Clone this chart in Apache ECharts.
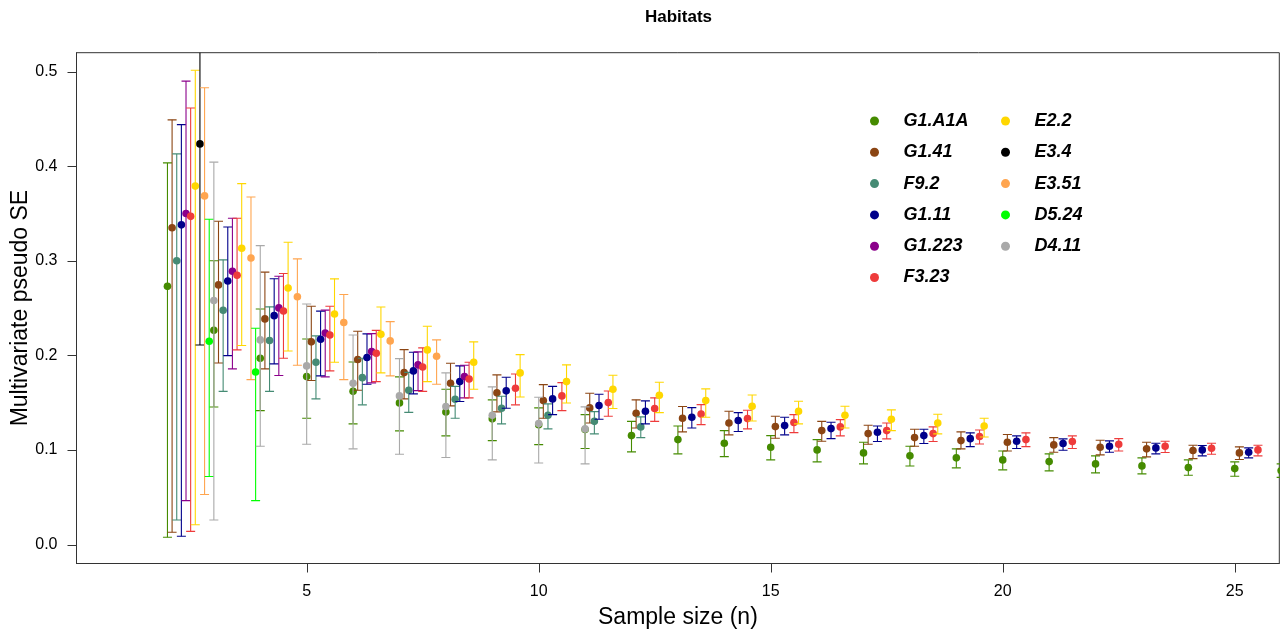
<!DOCTYPE html>
<html><head><meta charset="utf-8">
<script src="https://cdn.jsdelivr.net/npm/echarts@6/dist/echarts.min.js"></script>
<style>html,body{margin:0;padding:0;background:#fff}#c{width:1282px;height:635px}</style>
</head><body><div id="c"></div>
<script>
// Each row: [sample size n, pseudo SE, lower bound, upper bound]
const G1_A1A = [
  [2,0.273,0.0077,0.4035],[3,0.2266,0.1455,0.300],[4,0.197,0.1416,0.249],[5,0.1776,0.1335,0.2174],
  [6,0.162,0.1276,0.193],[7,0.1498,0.1202,0.1773],[8,0.1402,0.1149,0.1642],[9,0.1329,0.1099,0.1530],
  [10,0.1268,0.1057,0.1445],[11,0.1216,0.1015,0.1374],[12,0.1152,0.098,0.1303],[13,0.111,0.0959,0.1254],
  [14,0.1071,0.093,0.1205],[15,0.1029,0.0895,0.1152],[16,0.1001,0.0874,0.111],[17,0.0969,0.0853,0.1082],
  [18,0.0938,0.0831,0.1039],[19,0.0917,0.0811,0.1012],[20,0.0895,0.079,0.099],[21,0.0877,0.0779,0.0959],
  [22,0.0853,0.0758,0.0938],[23,0.0832,0.0747,0.0917],[24,0.0814,0.0733,0.0895],[25,0.0803,0.0722,0.0874],
  [26,0.0782,0.0711,0.0853]
];
const G1_41 = [
  [2,0.335,0.013,0.449],[3,0.2745,0.192,0.3418],[4,0.2386,0.1857,0.288],[5,0.2143,0.1734,0.252],
  [6,0.1956,0.1631,0.2255],[7,0.1818,0.154,0.2061],[8,0.1705,0.1466,0.1917],[9,0.1604,0.1403,0.1794],
  [10,0.1522,0.1335,0.1691],[11,0.1445,0.1286,0.16],[12,0.1388,0.1233,0.153],[13,0.1335,0.1191,0.1459],
  [14,0.1286,0.116,0.141],[15,0.1247,0.1124,0.1356],[16,0.1205,0.1092,0.1303],[17,0.1173,0.106,0.1261],
  [18,0.1131,0.1039,0.1219],[19,0.1099,0.1012,0.1191],[20,0.1082,0.099,0.1163],[21,0.1054,0.0976,0.1131],
  [22,0.1029,0.0948,0.1103],[23,0.1012,0.0927,0.1082],[24,0.0994,0.0909,0.105],[25,0.0969,0.0899,0.1033]
];
const F9_2 = [
  [2,0.300,0.026,0.413],[3,0.2477,0.162,0.301],[4,0.2157,0.162,0.2513],[5,0.1928,0.154,0.2206],
  [6,0.1765,0.1477,0.197],[7,0.1631,0.1398,0.182],[8,0.1536,0.1335,0.1673],[9,0.1441,0.1276,0.1568],
  [10,0.1367,0.1223,0.1487],[11,0.1303,0.117,0.1406],[12,0.1244,0.1131,0.135]
];
const G1_11 = [
  [2,0.338,0.0088,0.444],[3,0.2787,0.1998,0.3358],[4,0.242,0.191,0.281],[5,0.217,0.1783,0.2468],
  [6,0.1977,0.1695,0.2227],[7,0.1836,0.1593,0.2033],[8,0.1723,0.1512,0.1889],[9,0.1625,0.1441,0.1769],
  [10,0.154,0.1374,0.1673],[11,0.147,0.1325,0.1589],[12,0.141,0.1276,0.1519],[13,0.1346,0.1233,0.1448],
  [14,0.1311,0.1195,0.1395],[15,0.1258,0.116,0.1346],[16,0.1226,0.112,0.1293],[17,0.1188,0.1089,0.1254],
  [18,0.1152,0.1068,0.1219],[19,0.112,0.1036,0.1181],[20,0.1092,0.1015,0.1149],[21,0.1068,0.0997,0.1117],
  [22,0.1039,0.0976,0.1096],[23,0.1022,0.0959,0.1071],[24,0.1001,0.0938,0.1047],[25,0.0976,0.0917,0.1022]
];
const G1_223 = [
  [2,0.350,0.0465,0.490],[3,0.289,0.1857,0.345],[4,0.2502,0.1787,0.2836],[5,0.2237,0.1773,0.2479],
  [6,0.204,0.171,0.223],[7,0.19,0.1628,0.2037],[8,0.1776,0.1551,0.1896]
];
const F3_23 = [
  [2,0.347,0.014,0.4616],[3,0.2847,0.2058,0.345],[4,0.247,0.197,0.2865],[5,0.2216,0.1836,0.2519],
  [6,0.2022,0.1723,0.2265],[7,0.1878,0.162,0.2079],[8,0.1751,0.1551,0.1928],[9,0.1653,0.1477,0.1804],
  [10,0.1572,0.1416,0.1712],[11,0.1501,0.1356,0.1624],[12,0.1438,0.1303,0.1551],[13,0.1381,0.1268,0.148],
  [14,0.1332,0.1223,0.142],[15,0.129,0.1184,0.1374],[16,0.1244,0.1149,0.1321],[17,0.1205,0.1117,0.1286],
  [18,0.1173,0.1089,0.1244],[19,0.1142,0.1064,0.1212],[20,0.111,0.1036,0.1181],[21,0.1089,0.1015,0.1149],
  [22,0.106,0.099,0.112],[23,0.1039,0.0973,0.1092],[24,0.1018,0.0955,0.1071],[25,0.1001,0.0938,0.105]
];
const E2_2 = [
  [2,0.379,0.021,0.5014],[3,0.3133,0.2104,0.3816],[4,0.2713,0.2047,0.3196],[5,0.2438,0.1928,0.2809],
  [6,0.2223,0.1815,0.2512],[7,0.2058,0.1723,0.2308],[8,0.1928,0.1642,0.2143],[9,0.1815,0.156,0.2008],
  [10,0.1723,0.1497,0.19],[11,0.1642,0.1438,0.179],[12,0.1579,0.1395,0.1716],[13,0.1522,0.1346,0.1646],
  [14,0.1462,0.1307,0.1582],[15,0.141,0.1276,0.1515],[16,0.1367,0.1233,0.1462],[17,0.1325,0.1205,0.1424],
  [18,0.1286,0.117,0.1378],[19,0.1254,0.1138,0.1335]
];
const E3_4 = [[2,0.4236,0.211,0.64]];
const E3_51 = [
  [2,0.3686,0.053,0.483],[3,0.303,0.1744,0.3675],[4,0.262,0.1896,0.302],[5,0.2347,0.1744,0.2643],
  [6,0.2153,0.1783,0.2357],[7,0.1991,0.1695,0.2164]
];
const D5_24 = [[2,0.215,0.072,0.344],[3,0.1825,0.0465,0.2287]];
const D4_11 = [
  [2,0.258,0.026,0.4043],[3,0.2164,0.104,0.316],[4,0.1889,0.106,0.2544],[5,0.1705,0.1012,0.2216],
  [6,0.1572,0.0955,0.1966],[7,0.1459,0.092,0.1815],[8,0.1367,0.0895,0.1667],[9,0.1279,0.0863,0.1557],
  [10,0.1223,0.0853,0.1456]
];

const habitatNames = ['G1.A1A','G1.41','F9.2','G1.11','G1.223','F3.23','E2.2','E3.4','E3.51','D5.24','D4.11'];
const habitatData  = [G1_A1A, G1_41, F9_2, G1_11, G1_223, F3_23, E2_2, E3_4, E3_51, D5_24, D4_11];
const habitatColors = ['#458B00','#8B4513','#458B74','#00008B','#8B008B','#EE3B3B','#FFD700','#000000','#FFA54F','#00FF00','#A9A9A9'];
const xTicks = [5,10,15,20,25];
const yTicks = [0,0.1,0.2,0.3,0.4,0.5];
const X_MIN = 0.04, X_MAX = 25.96, Y_MIN = -0.02, Y_MAX = 0.52;

const FONT = '"Liberation Sans", Arial, sans-serif';
const chart = echarts.init(document.getElementById('c'), null, {renderer:'canvas'});

function makeRender(color) {
  return function (params, api) {
    const x = api.value(0), y = api.value(1), lo = api.value(2), hi = api.value(3);
    const p = api.coord([x, y]);
    const pl = api.coord([x, lo]);
    const ph = api.coord([x, hi]);
    const cw = 4.5;
    const ls = {stroke: color, lineWidth: 1.1};
    return {
      type: 'group',
      children: [
        {type:'line', shape:{x1:p[0], y1:pl[1], x2:p[0], y2:ph[1]}, style: ls},
        {type:'line', shape:{x1:p[0]-cw, y1:pl[1], x2:p[0]+cw, y2:pl[1]}, style: ls},
        {type:'line', shape:{x1:p[0]-cw, y1:ph[1], x2:p[0]+cw, y2:ph[1]}, style: ls},
        {type:'circle', shape:{cx:p[0], cy:p[1], r:3.8}, style:{fill: color}}
      ]
    };
  };
}

const series = habitatNames.map((name, k) => ({
  name: name,
  type: 'custom',
  clip: true,
  itemStyle: {color: habitatColors[k]},
  renderItem: makeRender(habitatColors[k]),
  // dodge each habitat by 0.1 along the sample-size axis
  data: habitatData[k].map(r => [r[0] + k * 0.1, r[1], r[2], r[3]]),
  encode: {x: 0, y: 1},
  animation: false
}));

const legendText = {fontFamily: FONT, fontWeight: 'bold', fontStyle: 'italic', fontSize: 18, color: '#000', lineHeight: 18};

chart.setOption({
  animation: false,
  backgroundColor: '#fff',
  title: {
    text: 'Habitats', left: 645, top: 9, padding: 0,
    textStyle: {fontFamily: FONT, fontWeight: 'bold', fontSize: 17, color: '#000'}
  },
  legend: [
    {data: habitatNames.slice(0,6), orient:'vertical', left: 870, top: 112, padding: 0,
     itemWidth: 48, itemHeight: 9, itemGap: 13.3, icon: 'circle', textStyle: legendText, selectedMode: false},
    {data: habitatNames.slice(6), orient:'vertical', left: 1001, top: 112, padding: 0,
     itemWidth: 48, itemHeight: 9, itemGap: 13.3, icon: 'circle', textStyle: legendText, selectedMode: false}
  ],
  grid: {left: 76.5, top: 52.7, right: 2.7, bottom: 71.5, show: true, borderColor: '#333', borderWidth: 1,
         containLabel: false, outerBoundsMode: 'none'},
  xAxis: {
    type: 'value', min: X_MIN, max: X_MAX, position: 'bottom',
    name: 'Sample size (n)', nameLocation: 'middle', nameGap: 43, nameMoveOverlap: false,
    nameTextStyle: {fontFamily: FONT, fontSize: 23, color: '#000'},
    axisLine: {show: true, onZero: false, lineStyle: {color: '#333', width: 1}},
    splitLine: {show: false},
    axisTick: {show: false},
    axisLabel: {customValues: xTicks, margin: 20, fontFamily: FONT, fontSize: 16, color: '#000'}
  },
  yAxis: {
    type: 'value', min: Y_MIN, max: Y_MAX, position: 'left',
    name: 'Multivariate pseudo SE', nameLocation: 'middle', nameGap: 44, nameMoveOverlap: false,
    nameTextStyle: {fontFamily: FONT, fontSize: 23, color: '#000'},
    axisLine: {show: true, onZero: false, lineStyle: {color: '#333', width: 1}},
    splitLine: {show: false},
    axisTick: {show: false},
    axisLabel: {customValues: yTicks, margin: 19, fontFamily: FONT, fontSize: 16, color: '#000',
      formatter: v => v.toFixed(1)}
  },
  series: series
});

// Tick marks placed through the chart's own axis scales
const tickEls = [];
const bottomPx = chart.convertToPixel({yAxisIndex: 0}, Y_MIN);
const leftPx = chart.convertToPixel({xAxisIndex: 0}, X_MIN);
xTicks.forEach(v => {
  const px = Math.round(chart.convertToPixel({xAxisIndex: 0}, v)) + 0.5;
  tickEls.push({type:'line', silent:true, shape:{x1:px, y1:bottomPx, x2:px, y2:bottomPx + 9}, style:{stroke:'#333', lineWidth:1}});
});
yTicks.forEach(v => {
  const py = Math.round(chart.convertToPixel({yAxisIndex: 0}, v)) + 0.5;
  tickEls.push({type:'line', silent:true, shape:{x1:leftPx - 9, y1:py, x2:leftPx, y2:py}, style:{stroke:'#333', lineWidth:1}});
});
chart.setOption({graphic: tickEls});
</script>
</body></html>
